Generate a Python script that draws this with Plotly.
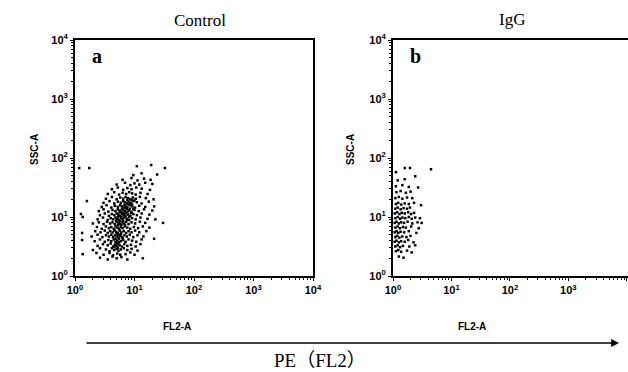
import plotly.graph_objects as go

# Points, as (log10 FL2-A, log10 SSC-A)
control_points = [
    (0.42,0.31),(0.55,0.28),(0.63,0.33),(0.70,0.30),(0.78,0.32),(0.88,0.28),(1.14,0.30),
    (0.13,0.37),(0.36,0.39),(0.48,0.36),(0.58,0.39),(0.64,0.35),(0.71,0.38),(0.76,0.36),(0.85,0.37),(0.93,0.40),(1.00,0.36),
    (0.30,0.44),(0.42,0.47),(0.52,0.45),(0.58,0.42),(0.62,0.47),(0.66,0.44),(0.70,0.46),(0.73,0.43),(0.77,0.45),(0.82,0.47),(0.88,0.44),(0.95,0.46),(1.05,0.43),
    (0.38,0.51),(0.47,0.54),(0.55,0.52),(0.60,0.55),(0.64,0.50),(0.67,0.53),(0.70,0.51),(0.72,0.55),(0.75,0.52),(0.79,0.50),(0.83,0.54),(0.88,0.51),(0.94,0.53),(1.02,0.50),(1.10,0.54),
    (0.12,0.61),(0.33,0.59),(0.42,0.62),(0.50,0.58),(0.56,0.61),(0.61,0.59),(0.65,0.62),(0.68,0.58),(0.71,0.60),(0.74,0.63),(0.77,0.59),(0.81,0.61),(0.85,0.58),(0.90,0.62),(0.96,0.60),(1.03,0.58),(1.12,0.62),(1.33,0.63),
    (0.28,0.67),(0.38,0.70),(0.46,0.66),(0.52,0.69),(0.57,0.67),(0.61,0.70),(0.64,0.66),(0.67,0.69),(0.70,0.67),(0.73,0.70),(0.76,0.68),(0.79,0.66),(0.83,0.69),(0.87,0.67),(0.92,0.70),(0.98,0.66),(1.05,0.69),(1.15,0.67),
    (0.12,0.73),(0.34,0.76),(0.43,0.74),(0.50,0.77),(0.55,0.73),(0.59,0.76),(0.63,0.74),(0.66,0.77),(0.69,0.75),(0.72,0.73),(0.75,0.77),(0.78,0.74),(0.82,0.76),(0.86,0.73),(0.90,0.76),(0.95,0.74),(1.01,0.77),(1.08,0.74),(1.20,0.76),
    (0.37,0.83),(0.45,0.80),(0.52,0.84),(0.57,0.81),(0.61,0.83),(0.65,0.80),(0.68,0.84),(0.71,0.82),(0.74,0.80),(0.77,0.83),(0.80,0.81),(0.84,0.84),(0.88,0.82),(0.93,0.80),(0.99,0.83),(1.06,0.81),(1.14,0.84),(1.25,0.82),
    (0.30,0.89),(0.40,0.91),(0.48,0.88),(0.54,0.92),(0.59,0.89),(0.63,0.91),(0.67,0.88),(0.70,0.92),(0.73,0.90),(0.76,0.88),(0.79,0.91),(0.82,0.89),(0.86,0.92),(0.90,0.88),(0.95,0.91),(1.01,0.89),(1.09,0.92),(1.18,0.90),(1.48,0.90),
    (0.13,1.00),(0.38,0.96),(0.47,0.99),(0.55,0.95),(0.60,0.98),(0.64,0.96),(0.68,0.99),(0.71,0.97),(0.74,0.95),(0.77,0.98),(0.80,0.96),(0.83,0.99),(0.87,0.97),(0.91,0.95),(0.96,0.98),(1.02,0.96),(1.10,0.99),(1.22,0.97),(1.35,0.96),
    (0.10,1.05),(0.42,1.03),(0.50,1.06),(0.57,1.02),(0.62,1.05),(0.66,1.03),(0.70,1.06),(0.73,1.04),(0.76,1.02),(0.79,1.05),(0.82,1.03),(0.85,1.06),(0.89,1.04),(0.93,1.02),(0.98,1.05),(1.04,1.03),(1.12,1.06),(1.25,1.04),
    (0.40,1.10),(0.48,1.13),(0.56,1.09),(0.63,1.12),(0.68,1.10),(0.72,1.13),(0.75,1.11),(0.78,1.09),(0.81,1.12),(0.84,1.10),(0.87,1.13),(0.91,1.11),(0.95,1.09),(1.00,1.12),(1.07,1.10),(1.16,1.13),(1.30,1.11),
    (0.45,1.17),(0.53,1.20),(0.61,1.16),(0.67,1.19),(0.72,1.17),(0.76,1.20),(0.79,1.18),(0.82,1.16),(0.85,1.19),(0.88,1.17),(0.92,1.20),(0.96,1.18),(1.01,1.16),(1.08,1.19),(1.18,1.17),(1.33,1.18),
    (0.20,1.27),(0.48,1.24),(0.58,1.27),(0.66,1.23),(0.72,1.26),(0.77,1.24),(0.81,1.27),(0.84,1.25),(0.87,1.23),(0.90,1.26),(0.94,1.24),(0.98,1.27),(1.04,1.25),(1.12,1.23),(1.24,1.26),
    (0.52,1.31),(0.62,1.34),(0.70,1.30),(0.76,1.33),(0.81,1.31),(0.85,1.34),(0.89,1.32),(0.93,1.30),(0.97,1.33),(1.02,1.31),(1.09,1.34),(1.19,1.32),(1.32,1.30),
    (0.55,1.39),(0.66,1.42),(0.74,1.38),(0.80,1.41),(0.86,1.39),(0.91,1.42),(0.96,1.40),(1.02,1.38),(1.10,1.41),(1.22,1.39),
    (0.62,1.47),(0.72,1.50),(0.81,1.46),(0.88,1.49),(0.95,1.47),(1.03,1.50),(1.12,1.48),(1.26,1.46),
    (0.70,1.55),(0.84,1.58),(0.93,1.54),(1.00,1.57),(1.08,1.55),(1.18,1.58),(1.30,1.56),
    (0.80,1.63),(0.95,1.66),(1.05,1.62),(1.16,1.65),(1.27,1.63),
    (0.98,1.71),(1.12,1.74),(1.38,1.72),
    (0.07,1.83),(0.24,1.83),(1.04,1.86),(1.28,1.88),(1.51,1.83),
    (0.66,0.49),(0.69,0.56),(0.72,0.48),(0.74,0.57),(0.68,0.63),(0.73,0.65),(0.70,0.72),(0.77,0.71),(0.80,0.64),
    (0.66,0.79),(0.72,0.86),(0.78,0.86),(0.84,0.87),(0.69,0.94),(0.75,0.93),(0.81,0.93),(0.88,0.95),
    (0.72,1.00),(0.78,1.00),(0.85,1.01),(0.91,1.00),(0.75,1.08),(0.82,1.07),(0.88,1.08),(0.94,1.07),
    (0.79,1.14),(0.86,1.15),(0.92,1.14),(0.98,1.14),(0.83,1.21),(0.90,1.22),(0.96,1.21),(0.88,1.29),(0.95,1.29),(1.00,1.28),
]

igg_points = [
    (0.10,0.33),(0.18,0.31),
    (0.05,0.42),(0.09,0.44),(0.14,0.41),(0.24,0.43),(0.32,0.40),
    (0.04,0.50),(0.08,0.52),(0.12,0.49),(0.17,0.51),(0.28,0.50),(0.38,0.52),
    (0.03,0.58),(0.06,0.60),(0.10,0.57),(0.14,0.59),(0.20,0.58),(0.26,0.61),(0.35,0.57),
    (0.04,0.66),(0.07,0.68),(0.11,0.65),(0.16,0.67),(0.23,0.66),(0.30,0.68),
    (0.03,0.74),(0.06,0.76),(0.09,0.73),(0.13,0.75),(0.19,0.74),(0.27,0.76),(0.40,0.73),
    (0.04,0.82),(0.08,0.84),(0.12,0.81),(0.17,0.83),(0.22,0.82),(0.31,0.84),(0.44,0.81),
    (0.03,0.90),(0.06,0.92),(0.10,0.89),(0.14,0.91),(0.19,0.90),(0.25,0.92),(0.33,0.89),(0.42,0.91),(0.49,0.90),
    (0.04,0.98),(0.08,1.00),(0.12,0.97),(0.16,0.99),(0.21,0.98),(0.27,1.00),(0.32,0.97),(0.38,0.99),(0.46,0.98),
    (0.03,1.06),(0.07,1.08),(0.11,1.05),(0.15,1.07),(0.20,1.06),(0.26,1.08),(0.31,1.05),(0.36,1.07),
    (0.04,1.14),(0.08,1.16),(0.13,1.13),(0.18,1.15),(0.24,1.14),(0.29,1.16),(0.48,1.20),
    (0.05,1.22),(0.09,1.24),(0.14,1.21),(0.20,1.23),(0.27,1.22),(0.36,1.24),
    (0.04,1.32),(0.10,1.34),(0.16,1.31),(0.24,1.33),(0.33,1.32),
    (0.06,1.42),(0.13,1.44),(0.22,1.41),(0.30,1.43),
    (0.05,1.52),(0.16,1.54),(0.27,1.51),(0.43,1.50),
    (0.08,1.62),(0.20,1.64),
    (0.05,1.76),(0.38,1.69),
    (0.20,1.83),(0.29,1.83),(0.65,1.81),
]

tick_vals = [1, 10, 100, 1000, 10000]
tick_text = ["<b>10<sup>0</sup></b>", "<b>10<sup>1</sup></b>", "<b>10<sup>2</sup></b>",
             "<b>10<sup>3</sup></b>", "<b>10<sup>4</sup></b>"]
panel_titles = ["Control", "IgG"]
panel_letters = ["a", "b"]

W, H = 628, 372

def px_x(p):
    return p / W

def px_y(p):
    return 1 - p / H

fig = go.Figure()
for i, pts in enumerate([control_points, igg_points]):
    suffix = "" if i == 0 else "2"
    fig.add_trace(go.Scatter(
        x=[10 ** p[0] for p in pts], y=[10 ** p[1] for p in pts],
        mode="markers", xaxis="x" + suffix, yaxis="y" + suffix,
        marker=dict(symbol="square", size=2.5, color="black", line=dict(width=0)),
        showlegend=False, hoverinfo="skip"))

axis_common = dict(type="log", tickvals=tick_vals, ticktext=tick_text, automargin=False,
                   showgrid=False, zeroline=False, showline=True, linecolor="black",
                   linewidth=2, ticks="outside", ticklen=3, tickwidth=1, tickcolor="black",
                   minor=dict(ticks="outside", ticklen=2, tickwidth=1, tickcolor="black",
                              dtick="D1", showgrid=False),
                   tickfont=dict(family="Liberation Sans, Arial", size=11, color="black"))

fig.update_layout(
    template="none",
    width=W, height=H, margin=dict(l=0, r=0, t=0, b=0, pad=0),
    paper_bgcolor="white", plot_bgcolor="white",
    xaxis=dict(axis_common, domain=[px_x(75), px_x(313)], range=[0, 4], mirror=True, anchor="y"),
    yaxis=dict(axis_common, domain=[px_y(276), px_y(40)], range=[0, 4], mirror=True, anchor="x"),
    xaxis2=dict(axis_common, domain=[px_x(393), 1.0], range=[0, 4.02], mirror=True, anchor="y2"),
    yaxis2=dict(axis_common, domain=[px_y(276), px_y(40)], range=[0, 4], mirror=False, anchor="x2"),
)

def note(x, y, text, font, **kw):
    d = dict(x=px_x(x), y=px_y(y), text=text, showarrow=False, xref="paper", yref="paper",
             xanchor="center", yanchor="middle", font=font)
    d.update(kw)
    return d

serif = "Liberation Serif, Times New Roman"
sans = "Liberation Sans, Arial"
ann = []
ann.append(note(200, 21, panel_titles[0], dict(family=serif, size=17, color="black")))
ann.append(note(512, 20, panel_titles[1], dict(family=serif, size=17, color="black")))
ann.append(note(97, 56, "<b>" + panel_letters[0] + "</b>", dict(family=serif, size=20, color="black")))
ann.append(note(415, 56, "<b>" + panel_letters[1] + "</b>", dict(family=serif, size=20, color="black")))
for yx in [34, 350]:
    ann.append(note(yx, 150, "<b>SSC-A</b>", dict(family=sans, size=10, color="black"), textangle=-90))
for xx in [177, 472]:
    ann.append(note(xx, 326, "<b>FL2-A</b>", dict(family=sans, size=10, color="black")))
ann.append(dict(x=px_x(619), y=px_y(343), ax=-534, ay=0, axref="pixel", ayref="pixel",
                xref="paper", yref="paper", text="", showarrow=True,
                arrowhead=2, arrowsize=1.2, arrowwidth=1.3, arrowcolor="black"))
ann.append(note(320, 360, "PE（FL2）", dict(family="Liberation Serif, Noto Sans CJK SC", size=19, color="black")))
fig.update_layout(annotations=ann)

fig.write_html("out.html", config={"displayModeBar": False},
               post_script="document.body.style.margin='0';document.body.style.overflow='hidden';")
